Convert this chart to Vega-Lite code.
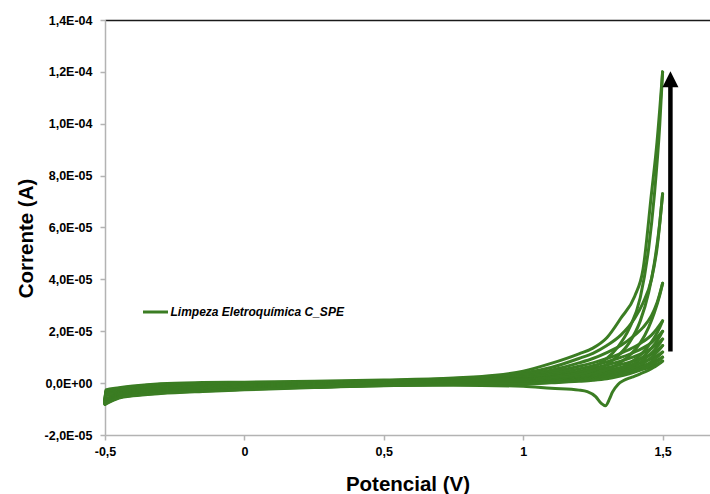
{
  "$schema": "https://vega.github.io/schema/vega-lite/v6.json",
  "width": 605,
  "height": 415,
  "autosize": {"type": "none"},
  "padding": {"left": 105, "top": 20, "right": 0, "bottom": 59},
  "background": "white",
  "config": {"view": {"stroke": null}, "font": "Liberation Sans"},
  "datasets": {
    "cv": [
      {"c":10,"d":"a","E":-0.5,"I":-6.4e-6},{"c":10,"d":"a","E":-0.497,"I":-2.6e-6},{"c":10,"d":"a","E":-0.45,"I":-1.8e-6},{"c":10,"d":"a","E":-0.4,"I":-1.1e-6},{"c":10,"d":"a","E":-0.3,"I":-0.2e-6},{"c":10,"d":"a","E":-0.15,"I":0.2e-6},{"c":10,"d":"a","E":0,"I":0.35e-6},{"c":10,"d":"a","E":0.25,"I":0.7e-6},{"c":10,"d":"a","E":0.5,"I":1.2e-6},{"c":10,"d":"a","E":0.75,"I":2.0e-6},{"c":10,"d":"a","E":0.9,"I":3.0e-6},{"c":10,"d":"a","E":1.0,"I":4.6e-6},{"c":10,"d":"a","E":1.1,"I":7.6e-6},{"c":10,"d":"a","E":1.2,"I":11.3e-6},{"c":10,"d":"a","E":1.25,"I":13.5e-6},{"c":10,"d":"a","E":1.3,"I":17.5e-6},{"c":10,"d":"a","E":1.35,"I":25e-6},{"c":10,"d":"a","E":1.4,"I":33.5e-6},{"c":10,"d":"a","E":1.43,"I":44e-6},{"c":10,"d":"a","E":1.46,"I":73e-6},{"c":10,"d":"a","E":1.48,"I":93e-6},{"c":10,"d":"a","E":1.5,"I":120e-6},
      {"c":9,"d":"a","E":-0.5,"I":-6.6e-6},{"c":9,"d":"a","E":-0.497,"I":-2.85e-6},{"c":9,"d":"a","E":-0.45,"I":-2.05e-6},{"c":9,"d":"a","E":-0.4,"I":-1.35e-6},{"c":9,"d":"a","E":-0.3,"I":-0.45e-6},{"c":9,"d":"a","E":-0.15,"I":-0.05e-6},{"c":9,"d":"a","E":0,"I":0.1e-6},{"c":9,"d":"a","E":0.25,"I":0.45e-6},{"c":9,"d":"a","E":0.5,"I":0.95e-6},{"c":9,"d":"a","E":0.75,"I":1.75e-6},{"c":9,"d":"a","E":0.9,"I":2.6e-6},{"c":9,"d":"a","E":1.0,"I":3.9e-6},{"c":9,"d":"a","E":1.1,"I":6.0e-6},{"c":9,"d":"a","E":1.2,"I":9.5e-6},{"c":9,"d":"a","E":1.25,"I":11.5e-6},{"c":9,"d":"a","E":1.3,"I":14.5e-6},{"c":9,"d":"a","E":1.35,"I":18.5e-6},{"c":9,"d":"a","E":1.4,"I":25e-6},{"c":9,"d":"a","E":1.43,"I":31e-6},{"c":9,"d":"a","E":1.46,"I":40e-6},{"c":9,"d":"a","E":1.48,"I":52e-6},{"c":9,"d":"a","E":1.5,"I":73e-6},
      {"c":8,"d":"a","E":-0.5,"I":-6.8e-6},{"c":8,"d":"a","E":-0.497,"I":-3.1e-6},{"c":8,"d":"a","E":-0.45,"I":-2.3e-6},{"c":8,"d":"a","E":-0.4,"I":-1.6e-6},{"c":8,"d":"a","E":-0.3,"I":-0.7e-6},{"c":8,"d":"a","E":-0.15,"I":-0.3e-6},{"c":8,"d":"a","E":0,"I":-0.15e-6},{"c":8,"d":"a","E":0.25,"I":0.2e-6},{"c":8,"d":"a","E":0.5,"I":0.7e-6},{"c":8,"d":"a","E":0.75,"I":1.5e-6},{"c":8,"d":"a","E":0.9,"I":2.2e-6},{"c":8,"d":"a","E":1.0,"I":3.3e-6},{"c":8,"d":"a","E":1.1,"I":5.0e-6},{"c":8,"d":"a","E":1.2,"I":7.8e-6},{"c":8,"d":"a","E":1.25,"I":9.5e-6},{"c":8,"d":"a","E":1.3,"I":11.8e-6},{"c":8,"d":"a","E":1.35,"I":14.5e-6},{"c":8,"d":"a","E":1.4,"I":18.5e-6},{"c":8,"d":"a","E":1.43,"I":21.5e-6},{"c":8,"d":"a","E":1.46,"I":26e-6},{"c":8,"d":"a","E":1.48,"I":31e-6},{"c":8,"d":"a","E":1.5,"I":38.5e-6},
      {"c":7,"d":"a","E":-0.5,"I":-7.0e-6},{"c":7,"d":"a","E":-0.497,"I":-3.35e-6},{"c":7,"d":"a","E":-0.45,"I":-2.55e-6},{"c":7,"d":"a","E":-0.4,"I":-1.85e-6},{"c":7,"d":"a","E":-0.3,"I":-0.95e-6},{"c":7,"d":"a","E":-0.15,"I":-0.55e-6},{"c":7,"d":"a","E":0,"I":-0.4e-6},{"c":7,"d":"a","E":0.25,"I":-0.05e-6},{"c":7,"d":"a","E":0.5,"I":0.45e-6},{"c":7,"d":"a","E":0.75,"I":1.25e-6},{"c":7,"d":"a","E":0.9,"I":1.8e-6},{"c":7,"d":"a","E":1.0,"I":2.8e-6},{"c":7,"d":"a","E":1.1,"I":4.3e-6},{"c":7,"d":"a","E":1.2,"I":6.5e-6},{"c":7,"d":"a","E":1.25,"I":7.8e-6},{"c":7,"d":"a","E":1.3,"I":9.5e-6},{"c":7,"d":"a","E":1.35,"I":11.5e-6},{"c":7,"d":"a","E":1.4,"I":14e-6},{"c":7,"d":"a","E":1.43,"I":16e-6},{"c":7,"d":"a","E":1.46,"I":18.5e-6},{"c":7,"d":"a","E":1.48,"I":21e-6},{"c":7,"d":"a","E":1.5,"I":24e-6},
      {"c":6,"d":"a","E":-0.5,"I":-7.2e-6},{"c":6,"d":"a","E":-0.497,"I":-3.6e-6},{"c":6,"d":"a","E":-0.45,"I":-2.8e-6},{"c":6,"d":"a","E":-0.4,"I":-2.1e-6},{"c":6,"d":"a","E":-0.3,"I":-1.2e-6},{"c":6,"d":"a","E":-0.15,"I":-0.8e-6},{"c":6,"d":"a","E":0,"I":-0.65e-6},{"c":6,"d":"a","E":0.25,"I":-0.3e-6},{"c":6,"d":"a","E":0.5,"I":0.2e-6},{"c":6,"d":"a","E":0.75,"I":1.0e-6},{"c":6,"d":"a","E":0.9,"I":1.5e-6},{"c":6,"d":"a","E":1.0,"I":2.4e-6},{"c":6,"d":"a","E":1.1,"I":3.6e-6},{"c":6,"d":"a","E":1.2,"I":5.5e-6},{"c":6,"d":"a","E":1.25,"I":6.7e-6},{"c":6,"d":"a","E":1.3,"I":8.2e-6},{"c":6,"d":"a","E":1.35,"I":9.9e-6},{"c":6,"d":"a","E":1.4,"I":12e-6},{"c":6,"d":"a","E":1.43,"I":13.6e-6},{"c":6,"d":"a","E":1.46,"I":15.6e-6},{"c":6,"d":"a","E":1.48,"I":17.6e-6},{"c":6,"d":"a","E":1.5,"I":20e-6},
      {"c":5,"d":"a","E":-0.5,"I":-7.4e-6},{"c":5,"d":"a","E":-0.497,"I":-3.85e-6},{"c":5,"d":"a","E":-0.45,"I":-3.05e-6},{"c":5,"d":"a","E":-0.4,"I":-2.35e-6},{"c":5,"d":"a","E":-0.3,"I":-1.45e-6},{"c":5,"d":"a","E":-0.15,"I":-1.05e-6},{"c":5,"d":"a","E":0,"I":-0.9e-6},{"c":5,"d":"a","E":0.25,"I":-0.55e-6},{"c":5,"d":"a","E":0.5,"I":-0.05e-6},{"c":5,"d":"a","E":0.75,"I":0.75e-6},{"c":5,"d":"a","E":0.9,"I":1.2e-6},{"c":5,"d":"a","E":1.0,"I":2.0e-6},{"c":5,"d":"a","E":1.1,"I":3.0e-6},{"c":5,"d":"a","E":1.2,"I":4.6e-6},{"c":5,"d":"a","E":1.25,"I":5.7e-6},{"c":5,"d":"a","E":1.3,"I":7.0e-6},{"c":5,"d":"a","E":1.35,"I":8.5e-6},{"c":5,"d":"a","E":1.4,"I":10.3e-6},{"c":5,"d":"a","E":1.43,"I":11.7e-6},{"c":5,"d":"a","E":1.46,"I":13.4e-6},{"c":5,"d":"a","E":1.48,"I":15e-6},{"c":5,"d":"a","E":1.5,"I":17e-6},
      {"c":4,"d":"a","E":-0.5,"I":-7.6e-6},{"c":4,"d":"a","E":-0.497,"I":-4.1e-6},{"c":4,"d":"a","E":-0.45,"I":-3.3e-6},{"c":4,"d":"a","E":-0.4,"I":-2.6e-6},{"c":4,"d":"a","E":-0.3,"I":-1.7e-6},{"c":4,"d":"a","E":-0.15,"I":-1.3e-6},{"c":4,"d":"a","E":0,"I":-1.15e-6},{"c":4,"d":"a","E":0.25,"I":-0.8e-6},{"c":4,"d":"a","E":0.5,"I":-0.3e-6},{"c":4,"d":"a","E":0.75,"I":0.5e-6},{"c":4,"d":"a","E":0.9,"I":0.9e-6},{"c":4,"d":"a","E":1.0,"I":1.6e-6},{"c":4,"d":"a","E":1.1,"I":2.5e-6},{"c":4,"d":"a","E":1.2,"I":3.9e-6},{"c":4,"d":"a","E":1.25,"I":4.8e-6},{"c":4,"d":"a","E":1.3,"I":5.9e-6},{"c":4,"d":"a","E":1.35,"I":7.2e-6},{"c":4,"d":"a","E":1.4,"I":8.7e-6},{"c":4,"d":"a","E":1.43,"I":9.8e-6},{"c":4,"d":"a","E":1.46,"I":11.2e-6},{"c":4,"d":"a","E":1.48,"I":12.6e-6},{"c":4,"d":"a","E":1.5,"I":14.5e-6},
      {"c":3,"d":"a","E":-0.5,"I":-7.8e-6},{"c":3,"d":"a","E":-0.497,"I":-4.35e-6},{"c":3,"d":"a","E":-0.45,"I":-3.55e-6},{"c":3,"d":"a","E":-0.4,"I":-2.85e-6},{"c":3,"d":"a","E":-0.3,"I":-1.95e-6},{"c":3,"d":"a","E":-0.15,"I":-1.55e-6},{"c":3,"d":"a","E":0,"I":-1.4e-6},{"c":3,"d":"a","E":0.25,"I":-1.05e-6},{"c":3,"d":"a","E":0.5,"I":-0.55e-6},{"c":3,"d":"a","E":0.75,"I":0.25e-6},{"c":3,"d":"a","E":0.9,"I":0.6e-6},{"c":3,"d":"a","E":1.0,"I":1.3e-6},{"c":3,"d":"a","E":1.1,"I":2.1e-6},{"c":3,"d":"a","E":1.2,"I":3.2e-6},{"c":3,"d":"a","E":1.25,"I":4.0e-6},{"c":3,"d":"a","E":1.3,"I":4.9e-6},{"c":3,"d":"a","E":1.35,"I":6.0e-6},{"c":3,"d":"a","E":1.4,"I":7.3e-6},{"c":3,"d":"a","E":1.43,"I":8.2e-6},{"c":3,"d":"a","E":1.46,"I":9.3e-6},{"c":3,"d":"a","E":1.48,"I":10.5e-6},{"c":3,"d":"a","E":1.5,"I":12e-6},
      {"c":2,"d":"a","E":-0.5,"I":-8.0e-6},{"c":2,"d":"a","E":-0.497,"I":-4.6e-6},{"c":2,"d":"a","E":-0.45,"I":-3.8e-6},{"c":2,"d":"a","E":-0.4,"I":-3.1e-6},{"c":2,"d":"a","E":-0.3,"I":-2.2e-6},{"c":2,"d":"a","E":-0.15,"I":-1.8e-6},{"c":2,"d":"a","E":0,"I":-1.65e-6},{"c":2,"d":"a","E":0.25,"I":-1.3e-6},{"c":2,"d":"a","E":0.5,"I":-0.8e-6},{"c":2,"d":"a","E":0.75,"I":0.0},{"c":2,"d":"a","E":0.9,"I":0.4e-6},{"c":2,"d":"a","E":1.0,"I":1.0e-6},{"c":2,"d":"a","E":1.1,"I":1.7e-6},{"c":2,"d":"a","E":1.2,"I":2.6e-6},{"c":2,"d":"a","E":1.25,"I":3.3e-6},{"c":2,"d":"a","E":1.3,"I":4.0e-6},{"c":2,"d":"a","E":1.35,"I":4.9e-6},{"c":2,"d":"a","E":1.4,"I":6.0e-6},{"c":2,"d":"a","E":1.43,"I":6.8e-6},{"c":2,"d":"a","E":1.46,"I":7.8e-6},{"c":2,"d":"a","E":1.48,"I":8.8e-6},{"c":2,"d":"a","E":1.5,"I":10e-6},
      {"c":1,"d":"a","E":-0.5,"I":-8.2e-6},{"c":1,"d":"a","E":-0.497,"I":-4.85e-6},{"c":1,"d":"a","E":-0.45,"I":-4.05e-6},{"c":1,"d":"a","E":-0.4,"I":-3.35e-6},{"c":1,"d":"a","E":-0.3,"I":-2.45e-6},{"c":1,"d":"a","E":-0.15,"I":-2.05e-6},{"c":1,"d":"a","E":0,"I":-1.9e-6},{"c":1,"d":"a","E":0.25,"I":-1.55e-6},{"c":1,"d":"a","E":0.5,"I":-1.05e-6},{"c":1,"d":"a","E":0.75,"I":-0.25e-6},{"c":1,"d":"a","E":0.9,"I":0.2e-6},{"c":1,"d":"a","E":1.0,"I":0.8e-6},{"c":1,"d":"a","E":1.1,"I":1.4e-6},{"c":1,"d":"a","E":1.2,"I":2.1e-6},{"c":1,"d":"a","E":1.25,"I":2.6e-6},{"c":1,"d":"a","E":1.3,"I":3.2e-6},{"c":1,"d":"a","E":1.35,"I":3.9e-6},{"c":1,"d":"a","E":1.4,"I":4.8e-6},{"c":1,"d":"a","E":1.43,"I":5.4e-6},{"c":1,"d":"a","E":1.46,"I":6.3e-6},{"c":1,"d":"a","E":1.48,"I":7.2e-6},{"c":1,"d":"a","E":1.5,"I":8.5e-6},

      {"c":10,"d":"c","E":1.5,"I":120e-6},{"c":10,"d":"c","E":1.49,"I":100e-6},{"c":10,"d":"c","E":1.47,"I":72e-6},{"c":10,"d":"c","E":1.45,"I":52e-6},{"c":10,"d":"c","E":1.42,"I":33e-6},{"c":10,"d":"c","E":1.38,"I":21e-6},{"c":10,"d":"c","E":1.34,"I":14e-6},{"c":10,"d":"c","E":1.3,"I":9.5e-6},{"c":10,"d":"c","E":1.25,"I":6.0e-6},{"c":10,"d":"c","E":1.2,"I":4.0e-6},{"c":10,"d":"c","E":1.1,"I":2.2e-6},{"c":10,"d":"c","E":1.0,"I":1.5e-6},{"c":10,"d":"c","E":0.75,"I":1.3e-6},{"c":10,"d":"c","E":0.5,"I":0.9e-6},{"c":10,"d":"c","E":0.25,"I":0.1e-6},{"c":10,"d":"c","E":0,"I":-0.8e-6},{"c":10,"d":"c","E":-0.15,"I":-1.4e-6},{"c":10,"d":"c","E":-0.3,"I":-2.2e-6},{"c":10,"d":"c","E":-0.4,"I":-3.1e-6},{"c":10,"d":"c","E":-0.45,"I":-4.0e-6},{"c":10,"d":"c","E":-0.5,"I":-6.4e-6},
      {"c":9,"d":"c","E":1.5,"I":73e-6},{"c":9,"d":"c","E":1.49,"I":62e-6},{"c":9,"d":"c","E":1.47,"I":46e-6},{"c":9,"d":"c","E":1.45,"I":35e-6},{"c":9,"d":"c","E":1.42,"I":24e-6},{"c":9,"d":"c","E":1.38,"I":15.5e-6},{"c":9,"d":"c","E":1.34,"I":10.5e-6},{"c":9,"d":"c","E":1.3,"I":7.2e-6},{"c":9,"d":"c","E":1.25,"I":4.8e-6},{"c":9,"d":"c","E":1.2,"I":3.2e-6},{"c":9,"d":"c","E":1.1,"I":1.8e-6},{"c":9,"d":"c","E":1.0,"I":1.2e-6},{"c":9,"d":"c","E":0.75,"I":1.1e-6},{"c":9,"d":"c","E":0.5,"I":0.7e-6},{"c":9,"d":"c","E":0.25,"I":-0.1e-6},{"c":9,"d":"c","E":0,"I":-1.0e-6},{"c":9,"d":"c","E":-0.15,"I":-1.6e-6},{"c":9,"d":"c","E":-0.3,"I":-2.4e-6},{"c":9,"d":"c","E":-0.4,"I":-3.3e-6},{"c":9,"d":"c","E":-0.45,"I":-4.2e-6},{"c":9,"d":"c","E":-0.5,"I":-6.6e-6},
      {"c":8,"d":"c","E":1.5,"I":38.5e-6},{"c":8,"d":"c","E":1.49,"I":34e-6},{"c":8,"d":"c","E":1.47,"I":27e-6},{"c":8,"d":"c","E":1.45,"I":21.5e-6},{"c":8,"d":"c","E":1.42,"I":15.5e-6},{"c":8,"d":"c","E":1.38,"I":10.5e-6},{"c":8,"d":"c","E":1.34,"I":7.4e-6},{"c":8,"d":"c","E":1.3,"I":5.2e-6},{"c":8,"d":"c","E":1.25,"I":3.5e-6},{"c":8,"d":"c","E":1.2,"I":2.4e-6},{"c":8,"d":"c","E":1.1,"I":1.3e-6},{"c":8,"d":"c","E":1.0,"I":0.9e-6},{"c":8,"d":"c","E":0.75,"I":0.9e-6},{"c":8,"d":"c","E":0.5,"I":0.5e-6},{"c":8,"d":"c","E":0.25,"I":-0.3e-6},{"c":8,"d":"c","E":0,"I":-1.2e-6},{"c":8,"d":"c","E":-0.15,"I":-1.8e-6},{"c":8,"d":"c","E":-0.3,"I":-2.6e-6},{"c":8,"d":"c","E":-0.4,"I":-3.5e-6},{"c":8,"d":"c","E":-0.45,"I":-4.4e-6},{"c":8,"d":"c","E":-0.5,"I":-6.8e-6},
      {"c":7,"d":"c","E":1.5,"I":24e-6},{"c":7,"d":"c","E":1.49,"I":21.5e-6},{"c":7,"d":"c","E":1.47,"I":17.5e-6},{"c":7,"d":"c","E":1.45,"I":14.5e-6},{"c":7,"d":"c","E":1.42,"I":10.8e-6},{"c":7,"d":"c","E":1.38,"I":7.6e-6},{"c":7,"d":"c","E":1.34,"I":5.4e-6},{"c":7,"d":"c","E":1.3,"I":3.9e-6},{"c":7,"d":"c","E":1.25,"I":2.7e-6},{"c":7,"d":"c","E":1.2,"I":1.9e-6},{"c":7,"d":"c","E":1.1,"I":1.0e-6},{"c":7,"d":"c","E":1.0,"I":0.6e-6},{"c":7,"d":"c","E":0.75,"I":0.7e-6},{"c":7,"d":"c","E":0.5,"I":0.3e-6},{"c":7,"d":"c","E":0.25,"I":-0.5e-6},{"c":7,"d":"c","E":0,"I":-1.4e-6},{"c":7,"d":"c","E":-0.15,"I":-2.0e-6},{"c":7,"d":"c","E":-0.3,"I":-2.8e-6},{"c":7,"d":"c","E":-0.4,"I":-3.7e-6},{"c":7,"d":"c","E":-0.45,"I":-4.6e-6},{"c":7,"d":"c","E":-0.5,"I":-7.0e-6},
      {"c":6,"d":"c","E":1.5,"I":20e-6},{"c":6,"d":"c","E":1.49,"I":18e-6},{"c":6,"d":"c","E":1.47,"I":14.8e-6},{"c":6,"d":"c","E":1.45,"I":12.3e-6},{"c":6,"d":"c","E":1.42,"I":9.2e-6},{"c":6,"d":"c","E":1.38,"I":6.5e-6},{"c":6,"d":"c","E":1.34,"I":4.6e-6},{"c":6,"d":"c","E":1.3,"I":3.3e-6},{"c":6,"d":"c","E":1.25,"I":2.3e-6},{"c":6,"d":"c","E":1.2,"I":1.6e-6},{"c":6,"d":"c","E":1.1,"I":0.8e-6},{"c":6,"d":"c","E":1.0,"I":0.4e-6},{"c":6,"d":"c","E":0.75,"I":0.5e-6},{"c":6,"d":"c","E":0.5,"I":0.1e-6},{"c":6,"d":"c","E":0.25,"I":-0.7e-6},{"c":6,"d":"c","E":0,"I":-1.6e-6},{"c":6,"d":"c","E":-0.15,"I":-2.2e-6},{"c":6,"d":"c","E":-0.3,"I":-3.0e-6},{"c":6,"d":"c","E":-0.4,"I":-3.9e-6},{"c":6,"d":"c","E":-0.45,"I":-4.8e-6},{"c":6,"d":"c","E":-0.5,"I":-7.2e-6},
      {"c":5,"d":"c","E":1.5,"I":17e-6},{"c":5,"d":"c","E":1.49,"I":15.3e-6},{"c":5,"d":"c","E":1.47,"I":12.7e-6},{"c":5,"d":"c","E":1.45,"I":10.6e-6},{"c":5,"d":"c","E":1.42,"I":8.0e-6},{"c":5,"d":"c","E":1.38,"I":5.7e-6},{"c":5,"d":"c","E":1.34,"I":4.0e-6},{"c":5,"d":"c","E":1.3,"I":2.9e-6},{"c":5,"d":"c","E":1.25,"I":2.0e-6},{"c":5,"d":"c","E":1.2,"I":1.4e-6},{"c":5,"d":"c","E":1.1,"I":0.6e-6},{"c":5,"d":"c","E":1.0,"I":0.2e-6},{"c":5,"d":"c","E":0.75,"I":0.3e-6},{"c":5,"d":"c","E":0.5,"I":-0.1e-6},{"c":5,"d":"c","E":0.25,"I":-0.9e-6},{"c":5,"d":"c","E":0,"I":-1.8e-6},{"c":5,"d":"c","E":-0.15,"I":-2.4e-6},{"c":5,"d":"c","E":-0.3,"I":-3.2e-6},{"c":5,"d":"c","E":-0.4,"I":-4.1e-6},{"c":5,"d":"c","E":-0.45,"I":-5.0e-6},{"c":5,"d":"c","E":-0.5,"I":-7.4e-6},
      {"c":4,"d":"c","E":1.5,"I":14.5e-6},{"c":4,"d":"c","E":1.49,"I":13.1e-6},{"c":4,"d":"c","E":1.47,"I":10.9e-6},{"c":4,"d":"c","E":1.45,"I":9.1e-6},{"c":4,"d":"c","E":1.42,"I":6.9e-6},{"c":4,"d":"c","E":1.38,"I":4.9e-6},{"c":4,"d":"c","E":1.34,"I":3.5e-6},{"c":4,"d":"c","E":1.3,"I":2.5e-6},{"c":4,"d":"c","E":1.25,"I":1.7e-6},{"c":4,"d":"c","E":1.2,"I":1.2e-6},{"c":4,"d":"c","E":1.1,"I":0.4e-6},{"c":4,"d":"c","E":1.0,"I":0.0},{"c":4,"d":"c","E":0.75,"I":0.1e-6},{"c":4,"d":"c","E":0.5,"I":-0.3e-6},{"c":4,"d":"c","E":0.25,"I":-1.1e-6},{"c":4,"d":"c","E":0,"I":-2.0e-6},{"c":4,"d":"c","E":-0.15,"I":-2.6e-6},{"c":4,"d":"c","E":-0.3,"I":-3.4e-6},{"c":4,"d":"c","E":-0.4,"I":-4.3e-6},{"c":4,"d":"c","E":-0.45,"I":-5.2e-6},{"c":4,"d":"c","E":-0.5,"I":-7.6e-6},
      {"c":3,"d":"c","E":1.5,"I":12e-6},{"c":3,"d":"c","E":1.49,"I":10.9e-6},{"c":3,"d":"c","E":1.47,"I":9.1e-6},{"c":3,"d":"c","E":1.45,"I":7.6e-6},{"c":3,"d":"c","E":1.42,"I":5.8e-6},{"c":3,"d":"c","E":1.38,"I":4.2e-6},{"c":3,"d":"c","E":1.34,"I":3.0e-6},{"c":3,"d":"c","E":1.3,"I":2.1e-6},{"c":3,"d":"c","E":1.25,"I":1.4e-6},{"c":3,"d":"c","E":1.2,"I":1.0e-6},{"c":3,"d":"c","E":1.1,"I":0.3e-6},{"c":3,"d":"c","E":1.0,"I":-0.2e-6},{"c":3,"d":"c","E":0.75,"I":-0.1e-6},{"c":3,"d":"c","E":0.5,"I":-0.5e-6},{"c":3,"d":"c","E":0.25,"I":-1.3e-6},{"c":3,"d":"c","E":0,"I":-2.2e-6},{"c":3,"d":"c","E":-0.15,"I":-2.8e-6},{"c":3,"d":"c","E":-0.3,"I":-3.6e-6},{"c":3,"d":"c","E":-0.4,"I":-4.5e-6},{"c":3,"d":"c","E":-0.45,"I":-5.4e-6},{"c":3,"d":"c","E":-0.5,"I":-7.8e-6},
      {"c":2,"d":"c","E":1.5,"I":10e-6},{"c":2,"d":"c","E":1.49,"I":9.1e-6},{"c":2,"d":"c","E":1.47,"I":7.7e-6},{"c":2,"d":"c","E":1.45,"I":6.5e-6},{"c":2,"d":"c","E":1.42,"I":5.0e-6},{"c":2,"d":"c","E":1.38,"I":3.6e-6},{"c":2,"d":"c","E":1.34,"I":2.5e-6},{"c":2,"d":"c","E":1.3,"I":1.7e-6},{"c":2,"d":"c","E":1.25,"I":1.1e-6},{"c":2,"d":"c","E":1.2,"I":0.7e-6},{"c":2,"d":"c","E":1.1,"I":0.1e-6},{"c":2,"d":"c","E":1.0,"I":-0.4e-6},{"c":2,"d":"c","E":0.75,"I":-0.3e-6},{"c":2,"d":"c","E":0.5,"I":-0.7e-6},{"c":2,"d":"c","E":0.25,"I":-1.5e-6},{"c":2,"d":"c","E":0,"I":-2.4e-6},{"c":2,"d":"c","E":-0.15,"I":-3.0e-6},{"c":2,"d":"c","E":-0.3,"I":-3.8e-6},{"c":2,"d":"c","E":-0.4,"I":-4.7e-6},{"c":2,"d":"c","E":-0.45,"I":-5.6e-6},{"c":2,"d":"c","E":-0.5,"I":-8.0e-6},
      {"c":1,"d":"c","E":1.5,"I":8.5e-6},{"c":1,"d":"c","E":1.49,"I":7.6e-6},{"c":1,"d":"c","E":1.47,"I":6.2e-6},{"c":1,"d":"c","E":1.45,"I":5.0e-6},{"c":1,"d":"c","E":1.42,"I":3.6e-6},{"c":1,"d":"c","E":1.39,"I":2.3e-6},{"c":1,"d":"c","E":1.36,"I":1.0e-6},{"c":1,"d":"c","E":1.34,"I":-0.5e-6},{"c":1,"d":"c","E":1.32,"I":-3.5e-6},{"c":1,"d":"c","E":1.31,"I":-6.0e-6},{"c":1,"d":"c","E":1.295,"I":-8.7e-6},{"c":1,"d":"c","E":1.28,"I":-7.8e-6},{"c":1,"d":"c","E":1.26,"I":-5.2e-6},{"c":1,"d":"c","E":1.23,"I":-3.3e-6},{"c":1,"d":"c","E":1.2,"I":-2.7e-6},{"c":1,"d":"c","E":1.1,"I":-2.0e-6},{"c":1,"d":"c","E":1.0,"I":-1.2e-6},{"c":1,"d":"c","E":0.75,"I":-0.8e-6},{"c":1,"d":"c","E":0.5,"I":-0.95e-6},{"c":1,"d":"c","E":0.25,"I":-1.7e-6},{"c":1,"d":"c","E":0,"I":-2.6e-6},{"c":1,"d":"c","E":-0.15,"I":-3.2e-6},{"c":1,"d":"c","E":-0.3,"I":-4.0e-6},{"c":1,"d":"c","E":-0.4,"I":-4.9e-6},{"c":1,"d":"c","E":-0.45,"I":-5.8e-6},{"c":1,"d":"c","E":-0.5,"I":-8.2e-6}
    ],
    "seta": [{"E": 1.528, "I": 1.22e-5, "I2": 1.15e-4, "Itopo": 1.1716e-4}]
  },
  "layer": [
    {
      "data": {"name": "cv"},
      "mark": {"type": "line", "interpolate": "monotone", "strokeWidth": 3, "strokeCap": "round", "strokeJoin": "round"},
      "encoding": {
        "x": {
          "field": "E", "type": "quantitative",
          "scale": {"domain": [-0.5, 1.67], "nice": false, "zero": false},
          "axis": {
            "orient": "bottom", "values": [-0.5, 0, 0.5, 1, 1.5],
            "labelExpr": "replace(toString(datum.value), '.', ',')",
            "grid": false, "domainColor": "#b3b3b3", "domainWidth": 1.5,
            "tickColor": "#b3b3b3", "tickWidth": 1.5, "tickSize": 5,
            "labelFont": "Liberation Sans", "labelFontSize": 12.5, "labelFontWeight": "bold", "labelColor": "#000000",
            "labelPadding": 5, "labelFlush": false, "labelOverlap": false,
            "title": "Potencial (V)", "titleFont": "Liberation Sans", "titleFontSize": 20.5, "titleFontWeight": "bold",
            "titleColor": "#000000", "titleX": 302.5, "titleY": 55, "titleAlign": "center", "titleBaseline": "alphabetic"
          }
        },
        "y": {
          "field": "I", "type": "quantitative",
          "scale": {"domain": [-0.00002, 0.00014], "nice": false, "zero": false},
          "axis": {
            "values": [-0.00002, 0, 0.00002, 0.00004, 0.00006, 0.00008, 0.0001, 0.00012, 0.00014],
            "labelExpr": "datum.value == 0 ? '0,0E+00' : (datum.value < 0 ? '-' : '') + replace(format(abs(datum.value) / pow(10, floor(log(abs(datum.value)) / LN10 + 1e-9)), '.1f'), '.', ',') + 'E' + (floor(log(abs(datum.value)) / LN10 + 1e-9) < 0 ? '-' : '+') + format(abs(floor(log(abs(datum.value)) / LN10 + 1e-9)), '02d')",
            "grid": false, "domainColor": "#b3b3b3", "domainWidth": 1.5,
            "tickColor": "#b3b3b3", "tickWidth": 1.5, "tickSize": 5,
            "labelFont": "Liberation Sans", "labelFontSize": 12.5, "labelFontWeight": "bold", "labelColor": "#000000",
            "labelPadding": 8, "labelFlush": false, "labelOverlap": false,
            "title": "Corrente (A)", "titleFont": "Liberation Sans", "titleFontSize": 20.5, "titleFontWeight": "bold",
            "titleColor": "#000000", "titleX": -73, "titleY": 218, "titleAngle": -90, "titleAlign": "center", "titleBaseline": "alphabetic"
          }
        },
        "detail": [{"field": "c"}, {"field": "d"}],
        "color": {
          "datum": "Limpeza Eletroquímica C_SPE",
          "scale": {"range": ["#3b7d23"]},
          "legend": {
            "orient": "none", "legendX": 36.5, "legendY": 278, "title": null, "padding": 0,
            "symbolType": "stroke", "symbolSize": 625, "symbolStrokeWidth": 3,
            "labelFont": "Liberation Sans", "labelFontSize": 12, "labelFontWeight": "bold", "labelFontStyle": "italic",
            "labelColor": "#000000", "labelOffset": 1, "labelLimit": 0
          }
        }
      }
    },
    {
      "data": {"name": "seta"},
      "mark": {"type": "rule", "color": "#000000", "strokeWidth": 4.5},
      "encoding": {
        "x": {
          "field": "E", "type": "quantitative",
          "axis": {"orient": "top", "labels": false, "ticks": false, "title": null, "grid": false, "domainColor": "#1a1a1a", "domainWidth": 1.3}
        },
        "y": {"field": "I", "type": "quantitative", "axis": null},
        "y2": {"field": "I2"}
      }
    },
    {
      "data": {"name": "seta"},
      "mark": {"type": "point", "shape": "M0,-1L1,1L-1,1Z", "filled": true, "color": "#000000", "opacity": 1, "size": 256, "strokeWidth": 0},
      "encoding": {
        "x": {"field": "E", "type": "quantitative", "axis": null},
        "y": {"field": "Itopo", "type": "quantitative", "axis": null}
      }
    }
  ],
  "resolve": {"axis": {"x": "independent", "y": "independent"}}
}
